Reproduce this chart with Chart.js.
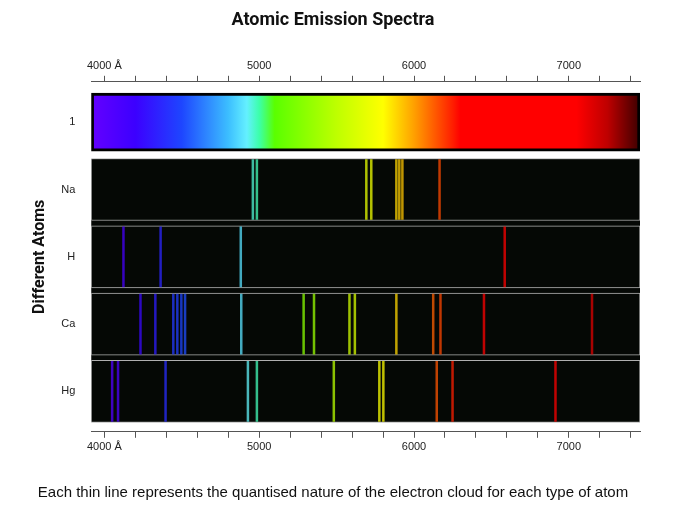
<![CDATA[<!DOCTYPE html>
<html><head><meta charset="utf-8">
<script src="https://cdn.jsdelivr.net/npm/chart.js@4"></script>
<style>body{margin:0;background:#fff}#w{width:696px;height:528px}</style>
</head><body><div id="w"><canvas id="c"></canvas></div>
<script>
const rowNames = ['1','Na','H','Ca','Hg'];
const naLines = [4959, 4985, 5692, 5724, 5886, 5905, 5925, 6165];
const hLines = [4123, 4363, 4881, 6586];
const caLines = [4233, 4329, 4445, 4471, 4497, 4521, 4884, 5287, 5354, 5583, 5618, 5886, 6124, 6171, 6452, 7150];
const hgLines = [4050, 4088, 4395, 4927, 4985, 5482, 5776, 5802, 6147, 6249, 6914];
const xTicks = [4000,4200,4400,4600,4800,5000,5200,5400,5600,5800,6000,6200,6400,6600,6800,7000,7200,7400];
const xMin = 3915, xMax = 7460;

const stops = [[3915,[100,0,255]],[4200,[60,0,255]],[4500,[30,70,255]],[4800,[60,190,255]],[4920,[100,240,255]],[5000,[60,255,170]],[5100,[90,255,0]],[5500,[190,255,0]],[5800,[255,255,0]],[6000,[255,160,0]],[6250,[255,30,0]],[6300,[255,0,0]],[7050,[255,0,0]],[7250,[190,0,0]],[7460,[60,0,0]]];
function wl(l){
  for(let i=0;i<stops.length-1;i++){
    const a=stops[i],b=stops[i+1];
    if(l<=b[0]){const t=Math.max(0,(l-a[0])/(b[0]-a[0]));return a[1].map((v,k)=>Math.round(v+(b[1][k]-v)*t));}
  }
  return stops[stops.length-1][1];
}
const lineData=[], lineColors=[];
[[1,naLines],[2,hLines],[3,caLines],[4,hgLines]].forEach(([r,arr])=>arr.forEach(l=>{
  lineData.push({y:r,x:[l-6,l+6]});
  const c=wl(l); lineColors.push(`rgba(${c[0]},${c[1]},${c[2]},0.75)`);
}));

function grad(ctx){
  const ch=ctx.chart, a=ch.chartArea; if(!a) return '#f00';
  const xs=ch.scales.x;
  const g=ch.ctx.createLinearGradient(xs.getPixelForValue(xMin),0,xs.getPixelForValue(xMax),0);
  stops.forEach(s=>g.addColorStop((s[0]-xMin)/(xMax-xMin),`rgb(${s[1].join(',')})`));
  return g;
}
const tickCb = v => v%1000===0 ? (v===4000?'4000 Å':String(v)) : '';
const xAxis = pos => ({type:'linear',position:pos,min:xMin,max:xMax,
  afterBuildTicks:s=>{s.ticks=xTicks.map(v=>({value:v}));},
  ticks:{callback:tickCb,autoSkip:false,font:{family:'Liberation Sans',size:11},color:'#222',maxRotation:0},
  grid:{drawOnChartArea:false,drawTicks:true,tickLength:6,color:'#555'},
  border:{color:'#555'}});

new Chart(document.getElementById('c'),{
  type:'bar',
  data:{datasets:[
    {data:lineData,backgroundColor:lineColors,barThickness:60,grouped:false},
    {data:[{y:0,x:[xMin,xMax]}],backgroundColor:grad,borderColor:'#000',borderWidth:3,borderSkipped:false,barThickness:58,grouped:false},
    {data:[1,2,3,4].map(r=>({y:r,x:[xMin,xMax]})),backgroundColor:'#050805',borderColor:'#b0b0b0',borderWidth:1,borderSkipped:false,barThickness:62,grouped:false},
    {data:[{y:2.5,x:[xMin,xMax]}],backgroundColor:'#050805',barThickness:262,grouped:false}
  ]},
  options:{
    indexAxis:'y',responsive:true,maintainAspectRatio:false,animation:false,
    layout:{padding:{left:26,right:56,top:0,bottom:26}},
    plugins:{legend:{display:false},tooltip:{enabled:false},
      title:{display:true,text:'Atomic Emission Spectra',font:{family:'Roboto',size:18,weight:'bold'},color:'#111',padding:{top:10,bottom:25}},
      subtitle:{display:true,position:'bottom',text:'Each thin line represents the quantised nature of the electron cloud for each type of atom',font:{family:'Liberation Sans',size:15},color:'#111',padding:{top:27}}},
    scales:{
      x:xAxis('bottom'), x2:xAxis('top'),
      y:{type:'linear',reverse:true,min:-0.6,max:4.6,offset:false,
        afterBuildTicks:s=>{s.ticks=[0,1,2,3,4].map(v=>({value:v}));},
        ticks:{callback:v=>rowNames[v]||'',font:{family:'Liberation Sans',size:11},color:'#222',padding:8},
        grid:{display:false,offset:false},border:{display:false},
        title:{display:true,text:'Different Atoms',font:{family:'Roboto',size:16,weight:'bold'},color:'#111'}}
    }
  }
});
</script></body></html>]]>
